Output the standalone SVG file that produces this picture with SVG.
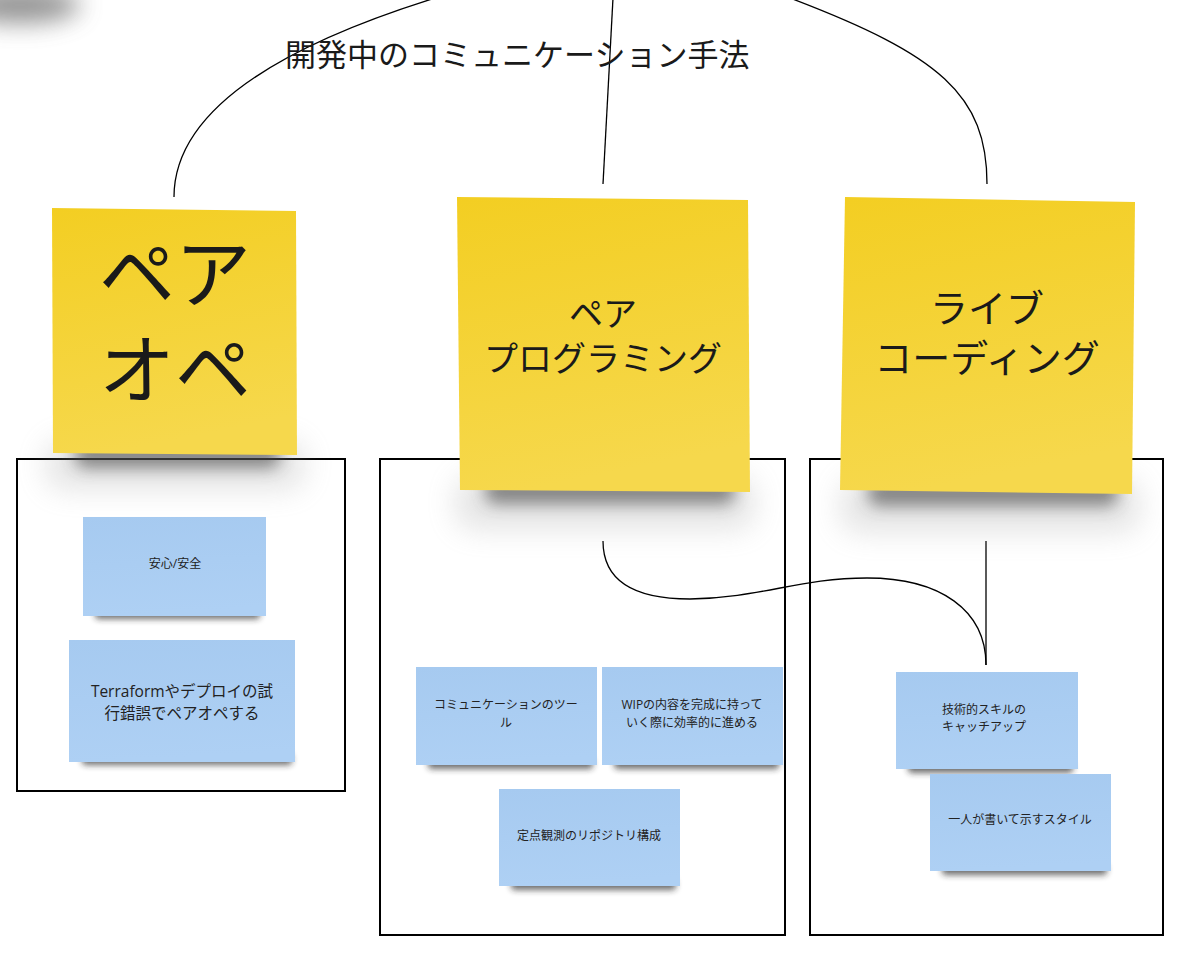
<svg xmlns="http://www.w3.org/2000/svg" width="1200" height="959" viewBox="0 0 1200 959">
<defs>
<linearGradient id="yg" x1="0" y1="0" x2="0.2" y2="1">
<stop offset="0" stop-color="#F3CE22"/>
<stop offset="1" stop-color="#F6D84C"/>
</linearGradient>
<linearGradient id="bg" x1="0" y1="0" x2="0.1" y2="1">
<stop offset="0" stop-color="#A6CAF0"/>
<stop offset="1" stop-color="#AED0F4"/>
</linearGradient>
<filter id="sh" x="-20%" y="-100%" width="140%" height="300%"><feGaussianBlur stdDeviation="8"/></filter>
<filter id="halo" x="-20%" y="-100%" width="140%" height="300%"><feGaussianBlur stdDeviation="14"/></filter>
<filter id="shs" x="-20%" y="-100%" width="140%" height="300%"><feGaussianBlur stdDeviation="3"/></filter>
<filter id="blob" x="-50%" y="-100%" width="200%" height="300%"><feGaussianBlur stdDeviation="12"/></filter>
</defs>
<style>
.frame{fill:none;stroke:#000;stroke-width:2}
.conn{fill:none;stroke:#000;stroke-width:1.3}
.yel{fill:url(#yg)}
.blu{fill:url(#bg)}
.ysh{fill:#444;opacity:0.6}
.yhalo{fill:#999;opacity:0.25}
.bsh{fill:#222;opacity:0.65}
.big{font-family:"Noto Sans CJK JP","Noto Sans",sans-serif;fill:#1a1a1a;text-anchor:middle}
.title{font-family:"Noto Sans CJK JP","Noto Sans",sans-serif;fill:#1a1a1a;text-anchor:start}
.sm{font-family:"Open Sans","Noto Sans CJK JP",sans-serif;fill:#222;text-anchor:middle}
.sml{font-family:"Open Sans","Noto Sans CJK JP",sans-serif;fill:#222;text-anchor:start}
</style>
<rect width="1200" height="959" fill="#fff"/>
<ellipse cx="20" cy="5" rx="60" ry="18" fill="#666" opacity="0.7" filter="url(#blob)"/>

<g id="frames">
<rect class="frame" x="17" y="459" width="328" height="332"/>
<rect class="frame" x="380" y="459" width="405" height="476"/>
<rect class="frame" x="810" y="459" width="353" height="476"/>
</g>

<g id="connectors">
<path class="conn" d="M174,197 C174,110 280,45 445,-5"/>
<path class="conn" d="M603,184 L613,-2"/>
<path class="conn" d="M987,184 C987,95 940,55 790,-2"/>
<path class="conn" d="M603,541 C603,585 640,599 690,599 C760,598 800,578 867,578 C940,578 986,610 986,665"/>
<path class="conn" d="M986,541 L986,665"/>
</g>

<text class="title" x="285" y="66" font-size="31">開発中のコミュニケーション手法</text>

<g id="note-pairope">
<rect class="yhalo" x="45" y="440" width="260" height="50" rx="20" filter="url(#halo)"/>
<rect class="ysh" x="75" y="440" width="205" height="28" rx="12" filter="url(#sh)"/>
<polygon class="yel" points="52,208 296,211 297,455 53,453"/>
<text class="big" x="175" y="302" font-size="76">ペア</text>
<text class="big" x="175" y="398" font-size="76">オペ</text>
</g>

<g id="note-pairprog">
<rect class="yhalo" x="455" y="475" width="300" height="55" rx="20" filter="url(#halo)"/>
<rect class="ysh" x="485" y="476" width="250" height="28" rx="12" filter="url(#sh)"/>
<polygon class="yel" points="457,197 748,200 750,492 460,490"/>
<text class="big" x="603" y="326" font-size="34">ペア</text>
<text class="big" x="603" y="371" font-size="34">プログラミング</text>
</g>

<g id="note-live">
<rect class="yhalo" x="840" y="478" width="300" height="55" rx="20" filter="url(#halo)"/>
<rect class="ysh" x="868" y="478" width="250" height="28" rx="12" filter="url(#sh)"/>
<polygon class="yel" points="845,197 1135,202 1132,494 840,490"/>
<text class="big" x="987" y="322" font-size="38">ライブ</text>
<text class="big" x="987" y="372" font-size="38">コーディング</text>
</g>

<g id="note-anshin">
<rect class="bsh" x="95" y="608" width="165" height="11" rx="4" filter="url(#shs)"/>
<rect class="blu" x="83" y="517" width="183" height="99"/>
<text class="sm" x="175" y="568" font-size="12">安心/安全</text>
</g>

<g id="note-terraform">
<rect class="bsh" x="82" y="754" width="210" height="11" rx="4" filter="url(#shs)"/>
<rect class="blu" x="69" y="640" width="226" height="122"/>
<text class="sm" x="182" y="697" font-size="15.5">Terraformやデプロイの試</text>
<text class="sm" x="182" y="719" font-size="15.5">行錯誤でペアオペする</text>
</g>

<g id="note-tool">
<rect class="bsh" x="428" y="758" width="165" height="11" rx="4" filter="url(#shs)"/>
<rect class="blu" x="416" y="667" width="181" height="98"/>
<text class="sm" x="506" y="709" font-size="12">コミュニケーションのツー</text>
<text class="sm" x="506" y="727" font-size="12">ル</text>
</g>

<g id="note-wip">
<rect class="bsh" x="614" y="758" width="165" height="11" rx="4" filter="url(#shs)"/>
<rect class="blu" x="602" y="667" width="181" height="98"/>
<text class="sm" x="692" y="709" font-size="12">WIPの内容を完成に持って</text>
<text class="sm" x="692" y="727" font-size="12">いく際に効率的に進める</text>
</g>

<g id="note-teiten">
<rect class="bsh" x="511" y="879" width="165" height="11" rx="4" filter="url(#shs)"/>
<rect class="blu" x="499" y="789" width="181" height="97"/>
<text class="sm" x="589" y="840" font-size="12">定点観測のリポジトリ構成</text>
</g>

<g id="note-skill">
<rect class="bsh" x="908" y="762" width="165" height="11" rx="4" filter="url(#shs)"/>
<rect class="blu" x="896" y="672" width="182" height="97"/>
<text class="sml" x="942" y="714" font-size="12">技術的スキルの</text>
<text class="sml" x="942" y="731" font-size="12">キャッチアップ</text>
</g>

<g id="note-hitori">
<rect class="bsh" x="942" y="864" width="165" height="11" rx="4" filter="url(#shs)"/>
<rect class="blu" x="930" y="774" width="181" height="97"/>
<text class="sm" x="1020" y="824" font-size="12">一人が書いて示すスタイル</text>
</g>
</svg>
